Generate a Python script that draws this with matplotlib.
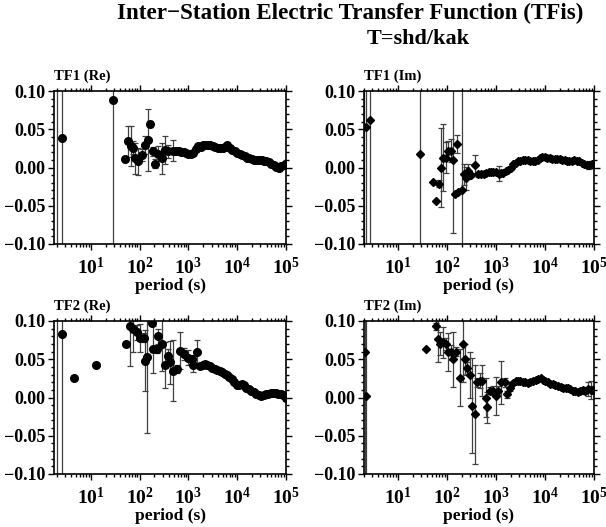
import numpy as np
import matplotlib
matplotlib.use("Agg")
import matplotlib.pyplot as plt
from matplotlib.ticker import MultipleLocator, LogLocator

plt.rcParams['font.family'] = ['Liberation Serif', 'DejaVu Serif']
plt.rcParams['font.weight'] = 'bold'
plt.rcParams['mathtext.default'] = 'regular'

# log10(period) / value / error for each transfer function
tf1_re_logp = [0.30, 0.41, 1.46, 1.70, 1.76, 1.83, 1.86, 1.91, 1.97, 2.04, 2.11, 2.17, 2.21, 2.28,
               2.32, 2.38, 2.45, 2.52, 2.59, 2.69,
               2.75, 2.80, 2.85, 2.90, 2.95, 3.00, 3.05, 3.10, 3.15, 3.20, 3.25, 3.30, 3.35, 3.40,
               3.45, 3.50, 3.55, 3.60, 3.65, 3.70, 3.75, 3.80, 3.85, 3.90, 3.95, 4.00, 4.05, 4.10,
               4.15, 4.20, 4.25, 4.30, 4.35, 4.40, 4.45, 4.50, 4.55, 4.60, 4.65, 4.70, 4.75, 4.80,
               4.85, 4.90, 4.95, 4.99]
tf1_re_val = [0.15, 0.039, 0.088, 0.011, 0.034, 0.028, 0.026, 0.012, 0.008, 0.016, 0.029, 0.036, 0.057, 0.021,
              0.005, 0.018, 0.012, 0.023, 0.021, 0.022,
              0.021, 0.021, 0.020, 0.020, 0.019, 0.018, 0.018, 0.019, 0.024, 0.028, 0.027, 0.029, 0.030, 0.030,
              0.029, 0.028, 0.027, 0.026, 0.025, 0.025, 0.027, 0.029, 0.026, 0.023, 0.021, 0.019, 0.017, 0.016,
              0.015, 0.013, 0.012, 0.011, 0.010, 0.010, 0.010, 0.010, 0.009, 0.008, 0.007, 0.005, 0.003, 0.001,
              0.000, 0.002, 0.003, 0.004]
tf1_re_err = [0.40, 0.30, 0.30, 0.0, 0.020, 0.026, 0.008, 0.020, 0.018, 0.008, 0.012, 0.040, 0.004, 0.006,
              0.006, 0.010, 0.020, 0.018, 0.008, 0.014,
              0.003, 0.002, 0.003, 0.002, 0.002, 0.002, 0.002, 0.002, 0.002, 0.003, 0.002, 0.002, 0.002, 0.002,
              0.002, 0.002, 0.002, 0.002, 0.002, 0.002, 0.002, 0.002, 0.002, 0.002, 0.002, 0.002, 0.002, 0.002,
              0.002, 0.002, 0.002, 0.002, 0.002, 0.003, 0.002, 0.002, 0.002, 0.002, 0.002, 0.002, 0.002, 0.003,
              0.004, 0.004, 0.003, 0.006]

tf1_im_logp = [0.31, 0.36, 0.43, 1.46, 1.72, 1.77, 1.83, 1.88, 1.92, 1.98, 2.03, 2.08, 2.12, 2.17, 2.21,
               2.23, 2.30, 2.34, 2.39, 2.44, 2.50, 2.57, 2.64,
               2.70, 2.75, 2.80, 2.85, 2.90, 2.95, 3.00, 3.06, 3.10, 3.15, 3.20, 3.25, 3.30, 3.35,
               3.40, 3.45, 3.50, 3.55, 3.60, 3.65, 3.70, 3.75, 3.80, 3.85, 3.90, 3.95, 4.00, 4.05,
               4.10, 4.15, 4.20, 4.25, 4.30, 4.35, 4.40, 4.45, 4.50, 4.55, 4.60, 4.65, 4.70, 4.75,
               4.80, 4.85, 4.90, 4.95, 4.99]
tf1_im_val = [0.20, 0.053, 0.062, 0.017, -0.019, -0.044, -0.021, 0.000, 0.013, 0.013, 0.022, 0.022, 0.010, -0.034, 0.031,
              -0.032, -0.030, -0.009, -0.014, -0.005, -0.010, 0.003, -0.009,
              -0.009, -0.008, -0.007, -0.006, -0.006, -0.006, -0.006, -0.008, -0.007, -0.007, -0.005, -0.003, -0.001, 0.004,
              0.006, 0.008, 0.009, 0.010, 0.010, 0.010, 0.009, 0.008, 0.009, 0.010, 0.012, 0.014, 0.014, 0.013,
              0.012, 0.011, 0.011, 0.011, 0.011, 0.010, 0.010, 0.009, 0.009, 0.009, 0.010, 0.009, 0.008, 0.006,
              0.004, 0.003, 0.003, 0.004, 0.004]
tf1_im_err = [0.50, 0.30, 0.30, 0.30, 0.0, 0.0, 0.005, 0.051, 0.044, 0.020, 0.012, 0.015, 0.096, 0.0, 0.012,
              0.0, 0.15, 0.014, 0.015, 0.010, 0.003, 0.013, 0.003,
              0.002, 0.003, 0.002, 0.002, 0.002, 0.003, 0.003, 0.010, 0.003, 0.002, 0.002, 0.002, 0.002, 0.002,
              0.002, 0.002, 0.002, 0.002, 0.002, 0.002, 0.002, 0.002, 0.002, 0.002, 0.002, 0.002, 0.002, 0.002,
              0.002, 0.002, 0.002, 0.002, 0.002, 0.002, 0.002, 0.002, 0.002, 0.002, 0.002, 0.002, 0.002, 0.002,
              0.002, 0.004, 0.005, 0.004, 0.005]

tf2_re_logp = [0.30, 0.41, 0.66, 1.11, 1.72, 1.81, 1.87, 1.94, 2.01, 2.08, 2.11, 2.16, 2.25, 2.28, 2.35,
               2.37, 2.45, 2.52, 2.58, 2.62, 2.69, 2.76, 2.83, 2.90, 2.99, 3.07, 3.10, 3.17,
               3.24, 3.29, 3.34, 3.39, 3.44, 3.49, 3.54, 3.59, 3.64, 3.69, 3.74, 3.79, 3.84, 3.89,
               3.94, 3.99, 4.04, 4.09, 4.14, 4.19, 4.24, 4.29, 4.34, 4.39, 4.44, 4.49, 4.54, 4.59,
               4.64, 4.69, 4.74, 4.79, 4.84, 4.89, 4.94, 4.99]
tf2_re_val = [0.16, 0.083, 0.026, 0.043, 0.070, 0.094, 0.089, 0.085, 0.078, 0.078, 0.048, 0.053, 0.098, 0.063, 0.063,
              0.080, 0.070, 0.043, 0.054, 0.046, 0.035, 0.037, 0.061, 0.057, 0.052, 0.050, 0.043, 0.059,
              0.041, 0.043, 0.044, 0.043, 0.041, 0.039, 0.037, 0.036, 0.034, 0.033, 0.031, 0.030, 0.027, 0.024,
              0.020, 0.016, 0.016, 0.017, 0.016, 0.013, 0.011, 0.009, 0.007, 0.004, 0.003, 0.002, 0.003, 0.004,
              0.005, 0.006, 0.006, 0.006, 0.005, 0.004, 0.003, 0.000]
tf2_re_err = [0.40, 0.30, 0.0, 0.0, 0.0, 0.053, 0.030, 0.010, 0.018, 0.006, 0.040, 0.100, 0.003, 0.031, 0.005,
              0.010, 0.035, 0.030, 0.010, 0.028, 0.040, 0.005, 0.024, 0.008, 0.010, 0.006, 0.010, 0.016,
              0.003, 0.002, 0.002, 0.002, 0.002, 0.002, 0.002, 0.002, 0.002, 0.002, 0.002, 0.002, 0.002, 0.002,
              0.002, 0.002, 0.002, 0.002, 0.002, 0.002, 0.002, 0.002, 0.003, 0.003, 0.002, 0.003, 0.002, 0.002,
              0.003, 0.003, 0.003, 0.004, 0.004, 0.003, 0.004, 0.005]

tf2_im_logp = [0.33, 0.36, 1.57, 1.77, 1.82, 1.86, 1.92, 1.99, 2.03, 2.09, 2.13, 2.18, 2.26, 2.32, 2.37,
               2.41, 2.47, 2.51, 2.57, 2.62, 2.67, 2.72, 2.79, 2.82, 2.87, 2.94, 3.00, 3.04, 3.11,
               3.18, 3.23, 3.28,
               3.35, 3.40, 3.45, 3.50, 3.55, 3.60, 3.65, 3.70, 3.76, 3.81, 3.86, 3.91, 3.96, 4.01,
               4.06, 4.11, 4.16, 4.21, 4.27, 4.32, 4.37, 4.42, 4.47, 4.52, 4.57, 4.62, 4.67, 4.72,
               4.77, 4.82, 4.88, 4.93, 4.98]
tf2_im_val = [0.059, 0.002, 0.063, 0.093, 0.076, 0.070, 0.072, 0.070, 0.059, 0.059, 0.050, 0.060, 0.026, 0.070, 0.050,
              0.039, 0.030, -0.011, -0.022, 0.020, 0.022, 0.022, 0.000, -0.013, 0.009, 0.009, 0.002, 0.009, 0.020,
              0.020, 0.004, 0.013,
              0.019, 0.021, 0.022, 0.021, 0.020, 0.020, 0.019, 0.020, 0.022, 0.023, 0.024, 0.025, 0.023, 0.021,
              0.020, 0.018, 0.017, 0.016, 0.015, 0.014, 0.013, 0.013, 0.012, 0.011, 0.009, 0.008, 0.007, 0.008,
              0.010, 0.009, 0.011, 0.010, 0.010]
tf2_im_err = [0.30, 0.30, 0.0, 0.005, 0.030, 0.015, 0.020, 0.008, 0.025, 0.010, 0.036, 0.006, 0.037, 0.050, 0.020,
              0.008, 0.030, 0.062, 0.065, 0.006, 0.010, 0.020, 0.025, 0.020, 0.005, 0.006, 0.025, 0.006, 0.028,
              0.006, 0.004, 0.004,
              0.002, 0.002, 0.002, 0.002, 0.002, 0.002, 0.002, 0.002, 0.002, 0.002, 0.002, 0.002, 0.002, 0.002,
              0.002, 0.002, 0.002, 0.002, 0.002, 0.002, 0.002, 0.002, 0.002, 0.002, 0.003, 0.003, 0.003, 0.003,
              0.004, 0.004, 0.009, 0.012, 0.005]

panels = [
    ("TF1 (Re)", tf1_re_logp, tf1_re_val, tf1_re_err, 'o', [54, 91, 286, 244], 1.76),
    ("TF1 (Im)", tf1_im_logp, tf1_im_val, tf1_im_err, 'D', [363.5, 91, 594, 244], 2.0),
    ("TF2 (Re)", tf2_re_logp, tf2_re_val, tf2_re_err, 'o', [54, 321, 286, 474], 1.76),
    ("TF2 (Im)", tf2_im_logp, tf2_im_val, tf2_im_err, 'D', [363.5, 321, 594, 474], 2.0),
]

W, H = 606, 527
fig = plt.figure(figsize=(W / 100, H / 100), dpi=100)

for name, logp, val, err, mk, box, xmin in panels:
    l, t, r, b = box
    ax = fig.add_axes([l / W, 1 - b / H, (r - l) / W, (b - t) / H])
    period = 10 ** np.array(logp)
    ax.errorbar(period, val, yerr=err, fmt='none', ecolor='0.25', elinewidth=0.9,
                capsize=2, capthick=0.9, zorder=2)
    ms = 5.5 if mk == 'o' else 4.2
    ax.plot(period, val, linestyle='none', marker=mk, color='black', markersize=ms, zorder=3)
    ax.set_xscale('log')
    ax.set_xlim(xmin, 1e5)
    ax.set_ylim(-0.1, 0.1)
    ax.set_yticks([-0.1, -0.05, 0.0, 0.05, 0.1])
    ax.yaxis.set_minor_locator(MultipleLocator(0.01))
    ax.set_yticklabels(['\u22120.10', '\u22120.05', '0.00', '0.05', '0.10'])
    ax.xaxis.set_major_locator(LogLocator(base=10, numticks=10))
    ax.xaxis.set_minor_locator(LogLocator(base=10, subs=np.arange(2, 10), numticks=20))
    ax.tick_params(which='both', direction='out', top=True, right=True, width=1.0)
    ax.tick_params(which='major', length=4)
    ax.tick_params(which='minor', length=2)
    ax.tick_params(axis='y', which='major', labelsize=13, pad=2)
    ax.tick_params(axis='x', which='major', labelsize=14, pad=5)
    for lab in ax.get_yticklabels() + ax.get_xticklabels():
        lab.set_fontweight('bold')
    for sp in ax.spines.values():
        sp.set_linewidth(1.2)
    ax.set_xlabel('period (s)', fontsize=12.5, fontweight='bold', labelpad=0)
    ax.text(0.0, 1.05, name, transform=ax.transAxes, fontsize=10.5, fontweight='bold',
            ha='left', va='bottom')

fig.text(350 / W, 1 - 19 / H, 'Inter\u2212Station Electric Transfer Function (TFis)',
         ha='center', va='baseline', fontsize=16.6, fontweight='bold')
fig.text(418 / W, 1 - 44 / H, 'T=shd/kak', ha='center', va='baseline',
         fontsize=16, fontweight='bold')

fig.savefig('out.png', dpi=100)
